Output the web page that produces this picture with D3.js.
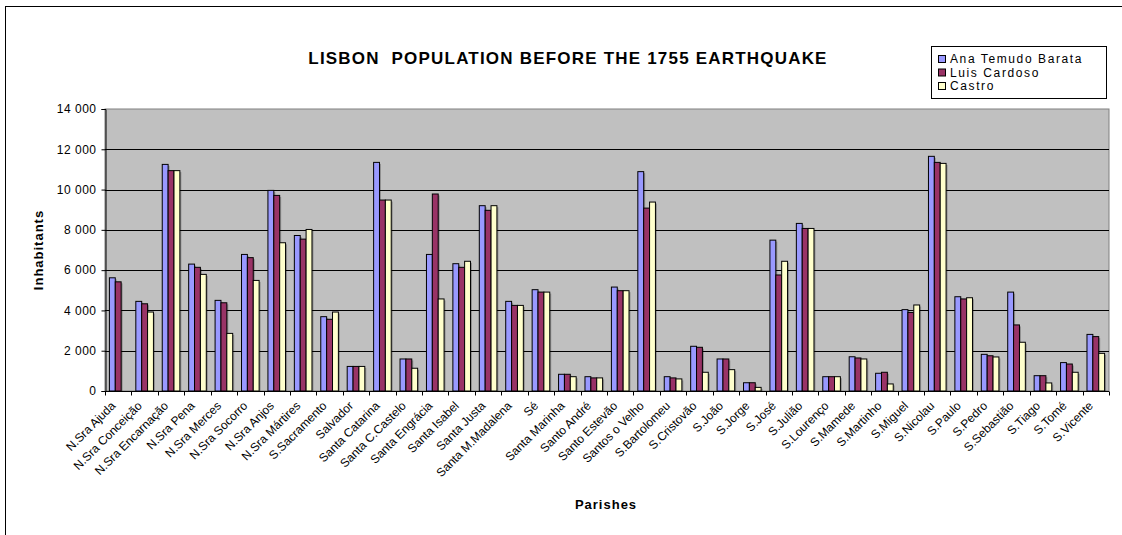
<!DOCTYPE html>
<html>
<head>
<meta charset="utf-8">
<script src="https://cdn.jsdelivr.net/npm/d3@7/dist/d3.min.js"></script>
<style>
  html, body { margin: 0; padding: 0; background: #fff; }
  svg { display: block; font-family: "Liberation Sans", Arial, sans-serif; }
</style>
</head>
<body>
<svg id="chart" width="1122" height="535"></svg>
<script>
// Parishes of Lisbon and population estimates by three historical sources
const parishes = [
  "N.Sra Ajuda", "N.Sra Conceição", "N.Sra Encarnação", "N.Sra Pena", "N.Sra Merces",
  "N.Sra Socorro", "N.Sra Anjos", "N.Sra Mártires", "S.Sacramento", "Salvador",
  "Santa Catarina", "Santa C.Castelo", "Santa Engrácia", "Santa Isabel", "Santa Justa",
  "Santa M.Madalena", "Sé", "Santa Marinha", "Santo André", "Santo Estevão",
  "Santos o Velho", "S.Bartolomeu", "S.Cristovão", "S.João", "S.Jorge",
  "S.José", "S.Julião", "S.Lourenço", "S.Mamede", "S.Martinho",
  "S.Miguel", "S.Nicolau", "S.Paulo", "S.Pedro", "S.Sebastião",
  "S.Tiago", "S.Tomé", "S.Vicente"
];
const seriesNames = ["Ana Temudo Barata", "Luis Cardoso", "Castro"];
const barata = [5620, 4450, 11250, 6300, 4500, 6780, 9960, 7720, 3690, 1220,
  11350, 1590, 6780, 6320, 9200, 4450, 5030, 830, 710, 5160,
  10890, 710, 2220, 1590, 410, 7490, 8320, 710, 1700, 880,
  4040, 11650, 4680, 1820, 4910, 760, 1410, 2810];
const cardoso = [5420, 4330, 10940, 6140, 4380, 6620, 9710, 7540, 3560, 1220,
  9480, 1590, 9780, 6140, 8970, 4250, 4910, 830, 650, 4980,
  9080, 650, 2170, 1590, 410, 5760, 8070, 710, 1640, 930,
  3900, 11350, 4570, 1750, 3280, 760, 1340, 2700];
const castro = [null, 3920, 10940, 5790, 2860, 5490, 7360, 8020, 3920, 1220,
  9480, 1130, 4570, 6440, 9200, 4250, 4910, 710, 650, 4980,
  9380, 600, 930, 1060, 180, 6440, 8070, 710, 1590, 350,
  4270, 11300, 4630, 1690, 2420, 400, 930, 1870];
const yTicks = [0, 2000, 4000, 6000, 8000, 10000, 12000, 14000];
const colors = ["#9999FF", "#993366", "#FFFFCC"];

const seriesValues = [barata, cardoso, castro];

const svg = d3.select("#chart");
const plotLeft = 105, plotRight = 1109, plotTop = 109, plotBottom = 391;

// outer chart frame
svg.append("rect")
  .attr("x", 5.5).attr("y", 6.5)
  .attr("width", 1130).attr("height", 540)
  .attr("fill", "#fff").attr("stroke", "#000").attr("stroke-width", 1);

const x = d3.scaleBand().domain(parishes).range([plotLeft, plotRight])
  .paddingInner(1 / 3).paddingOuter(1 / 6);
const xs = d3.scaleBand().domain(d3.range(3)).range([0, x.bandwidth()]);
const y = d3.scaleLinear().domain([0, 14000]).range([plotBottom, plotTop]);

// plot area
svg.append("rect")
  .attr("x", plotLeft).attr("y", plotTop)
  .attr("width", plotRight - plotLeft).attr("height", plotBottom - plotTop)
  .attr("fill", "#C0C0C0").attr("stroke", "#808080").attr("stroke-width", 1);

// horizontal gridlines
svg.append("g").selectAll("line").data(yTicks.filter(d => d > 0 && d < 14000)).join("line")
  .attr("x1", plotLeft).attr("x2", plotRight)
  .attr("y1", d => Math.round(y(d)) + 0.5).attr("y2", d => Math.round(y(d)) + 0.5)
  .attr("stroke", "#000").attr("stroke-width", 1);

// bars
const rows = [];
parishes.forEach((p, i) => {
  seriesValues.forEach((vals, s) => {
    if (vals[i] != null && vals[i] > 0) rows.push({ p, s, v: vals[i] });
  });
});
const barG = svg.append("g");
// soft shadow behind each bar
barG.selectAll("rect.shadow").data(rows).join("rect")
  .attr("class", "shadow")
  .attr("x", d => x(d.p) + xs(d.s) + 1.5)
  .attr("y", d => y(d.v) + 1.5)
  .attr("width", xs.bandwidth())
  .attr("height", d => plotBottom - y(d.v) - 1.5)
  .attr("fill", "#000").attr("opacity", 0.25);
barG.selectAll("rect.bar").data(rows).join("rect")
  .attr("class", "bar")
  .attr("x", d => x(d.p) + xs(d.s))
  .attr("y", d => y(d.v))
  .attr("width", xs.bandwidth())
  .attr("height", d => plotBottom - y(d.v))
  .attr("fill", d => colors[d.s])
  .attr("stroke", "#000").attr("stroke-width", 1);

// y axis
const yAxis = d3.axisLeft(y).tickValues(yTicks).tickSize(4)
  .tickFormat(d => d3.format(",")(d).replace(",", " "));
const yg = svg.append("g").attr("transform", `translate(${plotLeft + 0.5},0)`).call(yAxis);
yg.select(".domain").attr("stroke", "#000");
yg.selectAll(".tick line").attr("stroke", "#000");
yg.selectAll(".tick text").attr("font-size", 12).attr("fill", "#000")
  .attr("font-family", "'Liberation Sans', Arial, sans-serif")
  .attr("letter-spacing", 0.5).attr("x", -9);

// x axis with ticks between categories
const xg = svg.append("g").attr("transform", `translate(0,${plotBottom + 0.5})`);
xg.append("line").attr("x1", plotLeft).attr("x2", plotRight).attr("stroke", "#000");
const step = x.step();
xg.selectAll("line.tick").data(d3.range(parishes.length + 1)).join("line")
  .attr("class", "tick")
  .attr("x1", i => Math.round(plotLeft + i * step) + 0.5)
  .attr("x2", i => Math.round(plotLeft + i * step) + 0.5)
  .attr("y1", 0).attr("y2", 4)
  .attr("stroke", "#000");
xg.selectAll("text").data(parishes).join("text")
  .attr("transform", d => `translate(${x(d) + x.bandwidth() / 2 - 2},${15}) rotate(-45)`)
  .attr("text-anchor", "end")
  .attr("font-size", 12)
  .text(d => d);

// titles
svg.append("text").attr("x", 568).attr("y", 64).attr("text-anchor", "middle")
  .attr("font-size", 17).attr("font-weight", "bold").attr("letter-spacing", 1.2)
  .attr("xml:space", "preserve").style("white-space", "pre")
  .text("LISBON  POPULATION BEFORE THE 1755 EARTHQUAKE");
svg.append("text").attr("transform", "translate(43,250) rotate(-90)")
  .attr("text-anchor", "middle").attr("font-size", 13).attr("font-weight", "bold")
  .attr("letter-spacing", 1)
  .text("Inhabitants");
svg.append("text").attr("x", 606).attr("y", 509).attr("text-anchor", "middle")
  .attr("font-size", 13).attr("font-weight", "bold").attr("letter-spacing", 1)
  .text("Parishes");

// legend
const lg = svg.append("g");
lg.append("rect").attr("x", 931.5).attr("y", 46.5).attr("width", 175).attr("height", 52)
  .attr("fill", "#fff").attr("stroke", "#000");
seriesNames.forEach((n, i) => {
  const yy = 59 + i * 13.5;
  lg.append("rect").attr("x", 938.5).attr("y", yy - 3.5).attr("width", 7).attr("height", 7)
    .attr("fill", colors[i]).attr("stroke", "#000");
  lg.append("text").attr("x", 950).attr("y", yy).attr("dy", "0.35em")
    .attr("font-size", 12).attr("letter-spacing", 1.6)
    .text(n);
});
</script>
</body>
</html>
